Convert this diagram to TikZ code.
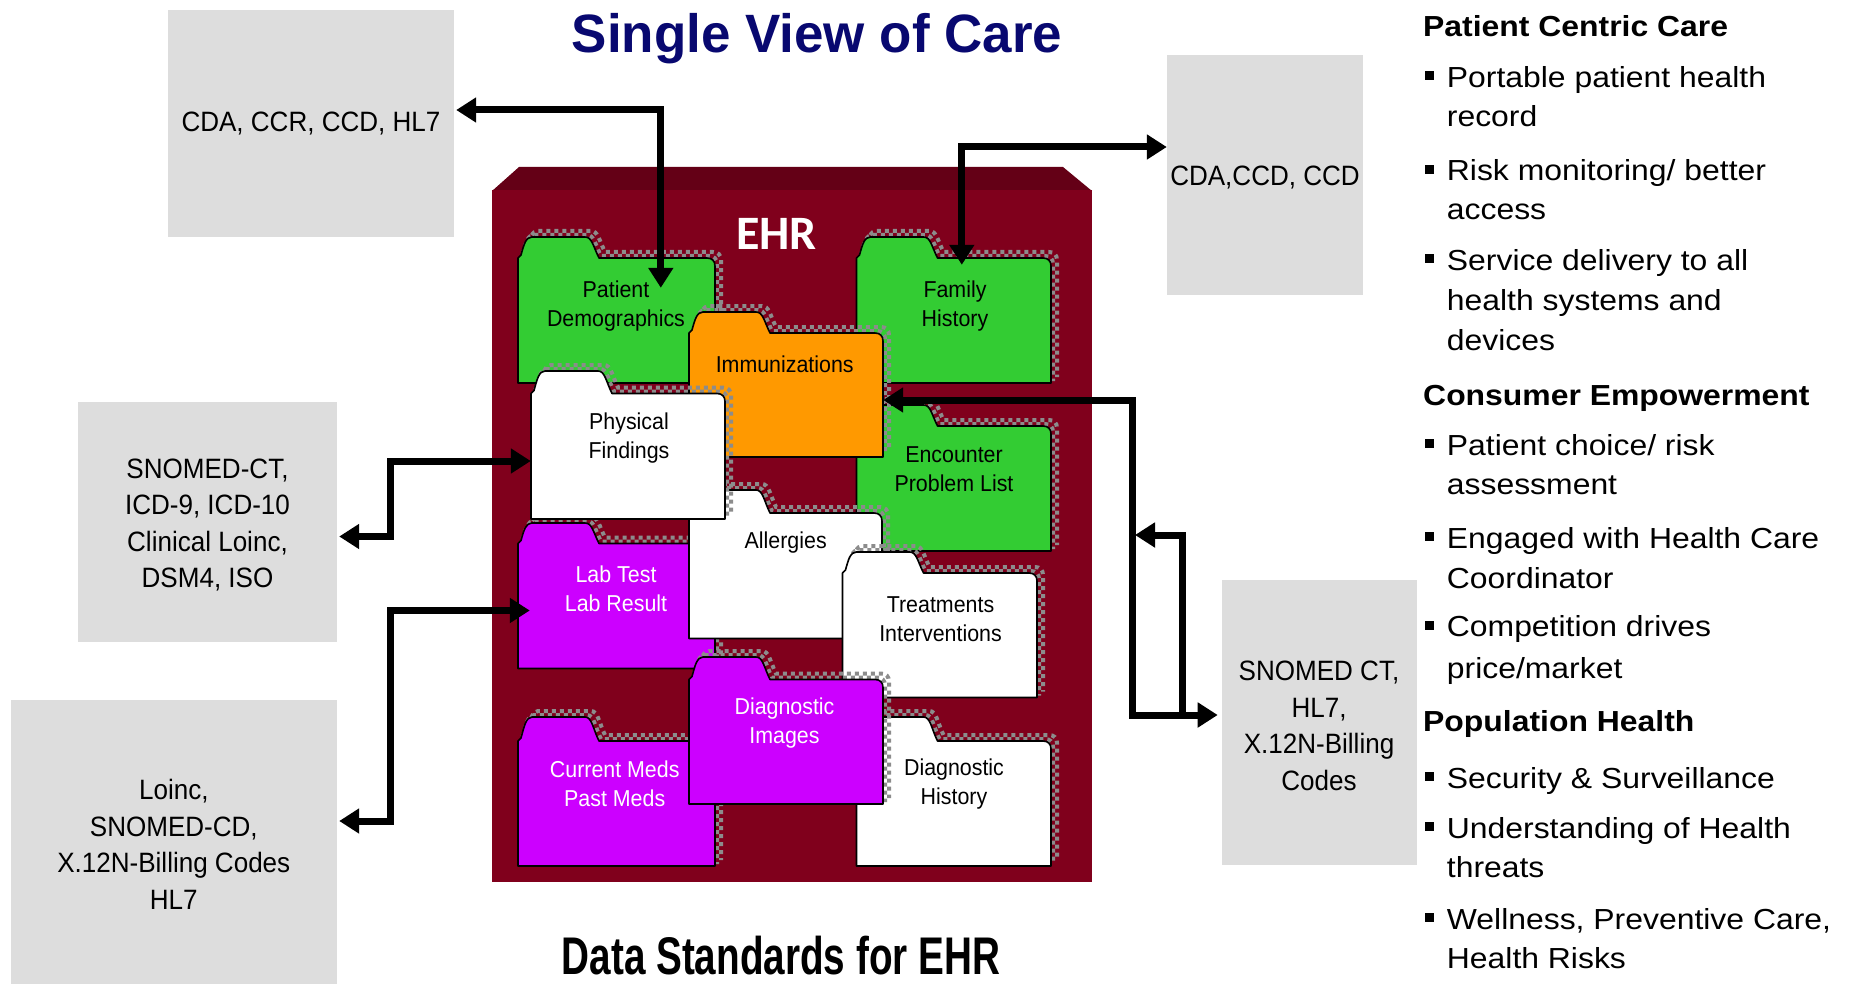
\documentclass[tikz,border=0pt]{standalone}
\usepackage{fontspec}
\setmainfont{Liberation Sans}
\newfontfamily\ffont[FakeStretch=0.93]{Liberation Sans}
\newfontfamily\rfont[FakeStretch=1.1]{Liberation Sans}
\newfontfamily\tfont[FakeStretch=0.98]{Liberation Sans}
\newfontfamily\dfont[FakeStretch=0.73]{Liberation Sans}
\newfontfamily\efont{Carlito}
\usetikzlibrary{arrows.meta}

\definecolor{ehrred}{RGB}{128,0,28}
\definecolor{ehrtop}{RGB}{100,0,22}
\definecolor{fgreen}{RGB}{51,204,51}
\definecolor{forange}{RGB}{255,153,0}
\definecolor{fmag}{RGB}{204,0,255}
\definecolor{boxgray}{RGB}{221,221,221}
\definecolor{navy}{RGB}{8,8,112}
\definecolor{chkgray}{RGB}{140,140,140}

% L R T B Z colour name
\newcommand{\folder}[7]{%
  \draw[shadowrow, shift={(6,-6)}]
    (#1,#5) -- (#1,#4) -- (#1+3,#4-3) .. controls (#1+6,#4-14) and (#1+8,#3) .. (#1+14,#3)
    -- (#1+67,#3) .. controls (#1+74,#3) and (#1+75,#4-12) .. (#1+81,#4)
    -- (#2-8,#4) .. controls (#2-3,#4) and (#2,#4+3) .. (#2,#4+8) -- (#2,#5);
  \draw[shadowrow, shift={(2,-2)}]
    (#1,#5) -- (#1,#4) -- (#1+3,#4-3) .. controls (#1+6,#4-14) and (#1+8,#3) .. (#1+14,#3)
    -- (#1+67,#3) .. controls (#1+74,#3) and (#1+75,#4-12) .. (#1+81,#4)
    -- (#2-8,#4) .. controls (#2-3,#4) and (#2,#4+3) .. (#2,#4+8) -- (#2,#5);
  \draw[fill=#6, line width=1.6pt, line join=round]
    (#1,#5) -- (#1,#4) -- (#1+3,#4-3) .. controls (#1+6,#4-14) and (#1+8,#3) .. (#1+14,#3)
    -- (#1+67,#3) .. controls (#1+74,#3) and (#1+75,#4-12) .. (#1+81,#4)
    -- (#2-8,#4) .. controls (#2-3,#4) and (#2,#4+3) .. (#2,#4+8) -- (#2,#5) -- cycle;
  \pgfmathsetmacro\fw{#2-#1}%
  \pgfmathsetmacro\fh{#5-#4}%
  \node[inner sep=0pt, minimum width=\fw pt, minimum height=\fh pt] (#7) at ({(#1+#2)/2},{(#4+#5)/2}) {};
}

\tikzset{
  shadowrow/.style={chkgray, line width=4pt, dash pattern=on 4pt off 4pt, line cap=butt},
  gbox/.style={fill=boxgray, inner sep=0pt, align=center, font=\ffont\fontsize{28}{36.5}\selectfont},
  ftext/.style={inner sep=0pt, align=center, font=\ffont\fontsize{23}{29}\selectfont},
  rt/.style={anchor=base west, inner sep=0pt, font=\rfont\fontsize{29}{36}\selectfont},
  rh/.style={anchor=base west, inner sep=0pt, font=\rfont\bfseries\fontsize{29}{36}\selectfont},
  dbl/.style={line width=7pt, arrows={Triangle[length=20pt,width=24pt]-Triangle[length=20pt,width=24pt]}},
  sgl/.style={line width=7pt, arrows={-Triangle[length=20pt,width=24pt]}}
}

\begin{document}
\begin{tikzpicture}[x=1pt,y=-1pt]
\useasboundingbox (0,0) rectangle (1854,984);
\fill[white] (0,0) rectangle (1854,984);

% titles
\node[anchor=base, inner sep=0pt, font=\tfont\bfseries\fontsize{54}{60}\selectfont, text=navy] (title) at (817,52.7) {Single View of Care};
\node[anchor=base, inner sep=0pt, font=\dfont\bfseries\fontsize{53}{60}\selectfont] (sub) at (781,974) {Data Standards for EHR};

% grey standard boxes
\node[gbox, minimum width=286pt, minimum height=227pt] (b1) at (311,123.5) {CDA, CCR, CCD, HL7};
\node[gbox, minimum width=196pt, minimum height=240pt] (b2) at (1265,175) {\rule{0pt}{24pt}CDA,CCD, CCD};
\node[gbox, minimum width=259pt, minimum height=239.5pt] (b3) at (207.5,521.75) {\rule{0pt}{26pt}SNOMED-CT,\\ICD-9, ICD-10\\Clinical Loinc,\\DSM4, ISO};
\node[gbox, minimum width=326.4pt, minimum height=284pt] (b4) at (173.8,842) {\rule{0pt}{25pt}Loinc,\\SNOMED-CD,\\X.12N-Billing Codes\\HL7};
\node[gbox, minimum width=195pt, minimum height=285pt] (b5) at (1319,722.5) {\rule{0pt}{26pt}SNOMED CT,\\HL7,\\X.12N-Billing\\Codes};

% EHR container
\fill[ehrtop] (519,167) -- (1063,167) -- (1092,191) -- (492,191) -- cycle;
\node[fill=ehrred, inner sep=0pt, minimum width=599.5pt, minimum height=692pt] (ehr) at (791.75,536) {};
\node[anchor=base, inner sep=0pt, font=\efont\bfseries\fontsize{48}{50}\selectfont, text=white] (ehrl) at (776.5,249.3) {EHR};

% folders
\folder{518}{715}{237}{258}{383}{fgreen}{pdb}
\node[ftext] (pdt) at (616,306.5) {Patient\\Demographics};
\folder{856.5}{1051}{237}{258}{383}{fgreen}{fhb}
\node[ftext] (fht) at (955,306.5) {Family\\History};
\folder{856.5}{1051}{405}{426}{551}{fgreen}{epb}
\node[ftext] (ept) at (954,469.5) {Encounter\\Problem List};
\folder{689}{883}{312}{333}{457}{forange}{imb}
\node[ftext] (imt) at (784.7,364) {Immunizations};
\folder{518}{715}{523}{543.5}{668.5}{fmag}{ltb}
\node[ftext, text=white] (ltt) at (616,588.5) {Lab Test\\Lab Result};
\folder{689}{882}{490}{513}{638.5}{white}{alb}
\node[ftext] (alt) at (785.7,543) {Allergies};
\folder{531}{725}{371}{393.5}{519}{white}{pfb}
\node[ftext] (pft) at (629,438) {Physical\\Findings};
\folder{842.5}{1037}{552}{573}{697.5}{white}{tib}
\node[ftext] (tit) at (940.5,619) {Treatments\\Interventions};
\folder{518}{715}{717}{741}{866}{fmag}{cmb}
\node[ftext, text=white] (cmt) at (614.7,784) {Current Meds\\Past Meds};
\folder{856.5}{1051}{717}{741}{866}{white}{dhb}
\node[ftext] (dht) at (954,784) {Diagnostic\\History};
\folder{689}{883}{657}{679.5}{804}{fmag}{dib}
\node[ftext, text=white] (dit) at (784.5,723.5) {Diagnostic\\Images};

% connectors
\coordinate (jct) at (1132,715);
\coordinate (jct2) at (1182,715);
\coordinate (jtip) at (1135,535);
\draw[dbl] ([xshift=2pt,yshift=13.5pt]b1.east) -| ([xshift=143pt,yshift=-30pt]pdb.north west);
\draw[dbl] ([xshift=105.5pt,yshift=-7pt]fhb.north west) |- ([yshift=28pt]b2.west);
\draw[dbl] ([xshift=2pt,yshift=-14.75pt]b3.east) -- ++(51,0) |- ([yshift=-4.75pt]pfb.west);
\draw[dbl] ([xshift=2pt,yshift=21pt]b4.east) -- ++(51,0) |- ([xshift=12pt,yshift=-4.5pt]ltb.west);
\draw[dbl] ([yshift=-5pt]imb.east) -| (jct) -- ([shift={(-3.6pt,7.5pt)}]b5.west);
\draw[sgl] (jct2) |- (jtip);

% right-hand text
\node[rh] (h1) at (1423,36.7) {Patient Centric Care};
\node[rt] (l1) at (1446.7,87.3) {Portable patient health};
\node[rt] (l2) at (1446.7,126.7) {record};
\node[rt] (l3) at (1446.7,180.7) {Risk monitoring/ better};
\node[rt] (l4) at (1446.7,220) {access};
\node[rt] (l5) at (1446.7,270) {Service delivery to all};
\node[rt] (l6) at (1446.7,310) {health systems and};
\node[rt] (l7) at (1446.7,350) {devices};
\node[rh] (h2) at (1423,405) {Consumer Empowerment};
\node[rt] (l8) at (1446.7,455) {Patient choice/ risk};
\node[rt] (l9) at (1446.7,494) {assessment};
\node[rt] (l10) at (1446.7,548.3) {Engaged with Health Care};
\node[rt] (l11) at (1446.7,588.3) {Coordinator};
\node[rt] (l12) at (1446.7,636.7) {Competition drives};
\node[rt] (l13) at (1446.7,678) {price/market};
\node[rh] (h3) at (1423,731.7) {Population Health};
\node[rt] (l14) at (1446.7,788.3) {Security \& Surveillance};
\node[rt] (l15) at (1446.7,838.3) {Understanding of Health};
\node[rt] (l16) at (1446.7,877.3) {threats};
\node[rt] (l17) at (1446.7,929.3) {Wellness, Preventive Care,};
\node[rt] (l18) at (1446.7,968.3) {Health Risks};
\foreach \yy in {87.3,180.7,270,455,548.3,636.7,788.3,838.3,929.3}
  \fill (1425,\yy-16) rectangle (1434,\yy-7);
\end{tikzpicture}
\end{document}
